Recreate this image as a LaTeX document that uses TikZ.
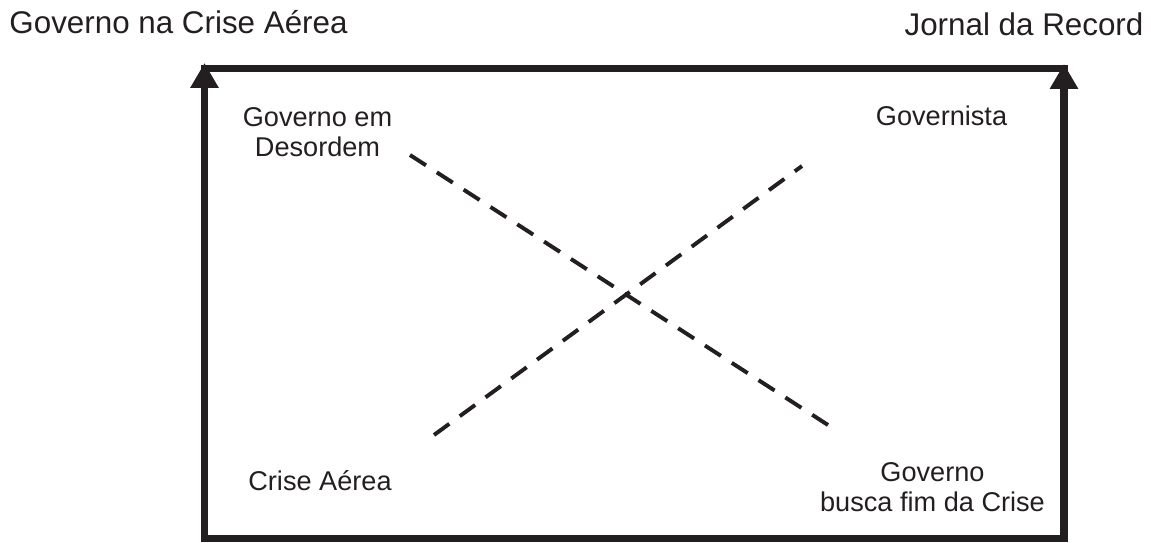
\documentclass[tikz,border=0pt]{standalone}
\usepackage{fontspec}
\setmainfont{Liberation Sans}
\usepackage{xcolor}
\usetikzlibrary{arrows.meta}
\definecolor{ink}{RGB}{35,31,32}

\begin{document}
\begin{tikzpicture}[x=0.025cm,y=-0.025cm,
  ttl/.style={font=\fontsize{22.3}{25}\selectfont,inner sep=0pt,text=ink},
  lbl/.style={font=\fontsize{19.3}{21.3}\selectfont,align=center,inner sep=0pt,text=ink},
  frame/.style={draw=ink,line width=5.3pt,line cap=rect},
  axis/.style={draw=ink,line width=5.3pt,-{Triangle[length=17.7pt,width=19.1pt]}},
  cross/.style={draw=ink,line width=2.8pt,dash pattern=on 13.5pt off 9.2pt}]
\useasboundingbox (0,0) rectangle (1151,542);

\coordinate (TL) at (204.5,68.5);
\coordinate (TR) at (1064,68.5);
\coordinate (BL) at (204.5,538.5);
\coordinate (BR) at (1064,538.5);
\coordinate (TLtip) at (204.5,63);
\coordinate (TRtip) at (1064,64);

\node (GCA) [ttl] at (178.5,22.5) {Governo na Crise Aérea};
\node (JR) [ttl] at (1024,24) {Jornal da Record};

\node (GD) [lbl] at (317.5,132) {Governo em\\Desordem};
\node (GV) [lbl] at (941.5,116) {Governista};
\node (CA) [lbl] at (320,480.5) {Crise Aérea};
\node (GB) [lbl] at (932.5,487.5) {Governo\\busca fim da Crise};

\coordinate (D1a) at (410,155);
\coordinate (D1b) at (828,425);
\coordinate (D2a) at (434,435);
\coordinate (D2b) at (802,166);

\draw[frame] (TL) -- (TR);
\draw[frame] (BL) -- (BR);
\draw[axis] (BL) -- (TLtip);
\draw[axis] (BR) -- (TRtip);

\draw[cross] (D1a) -- (D1b);
\draw[cross] (D2a) -- (D2b);
\end{tikzpicture}
\end{document}
